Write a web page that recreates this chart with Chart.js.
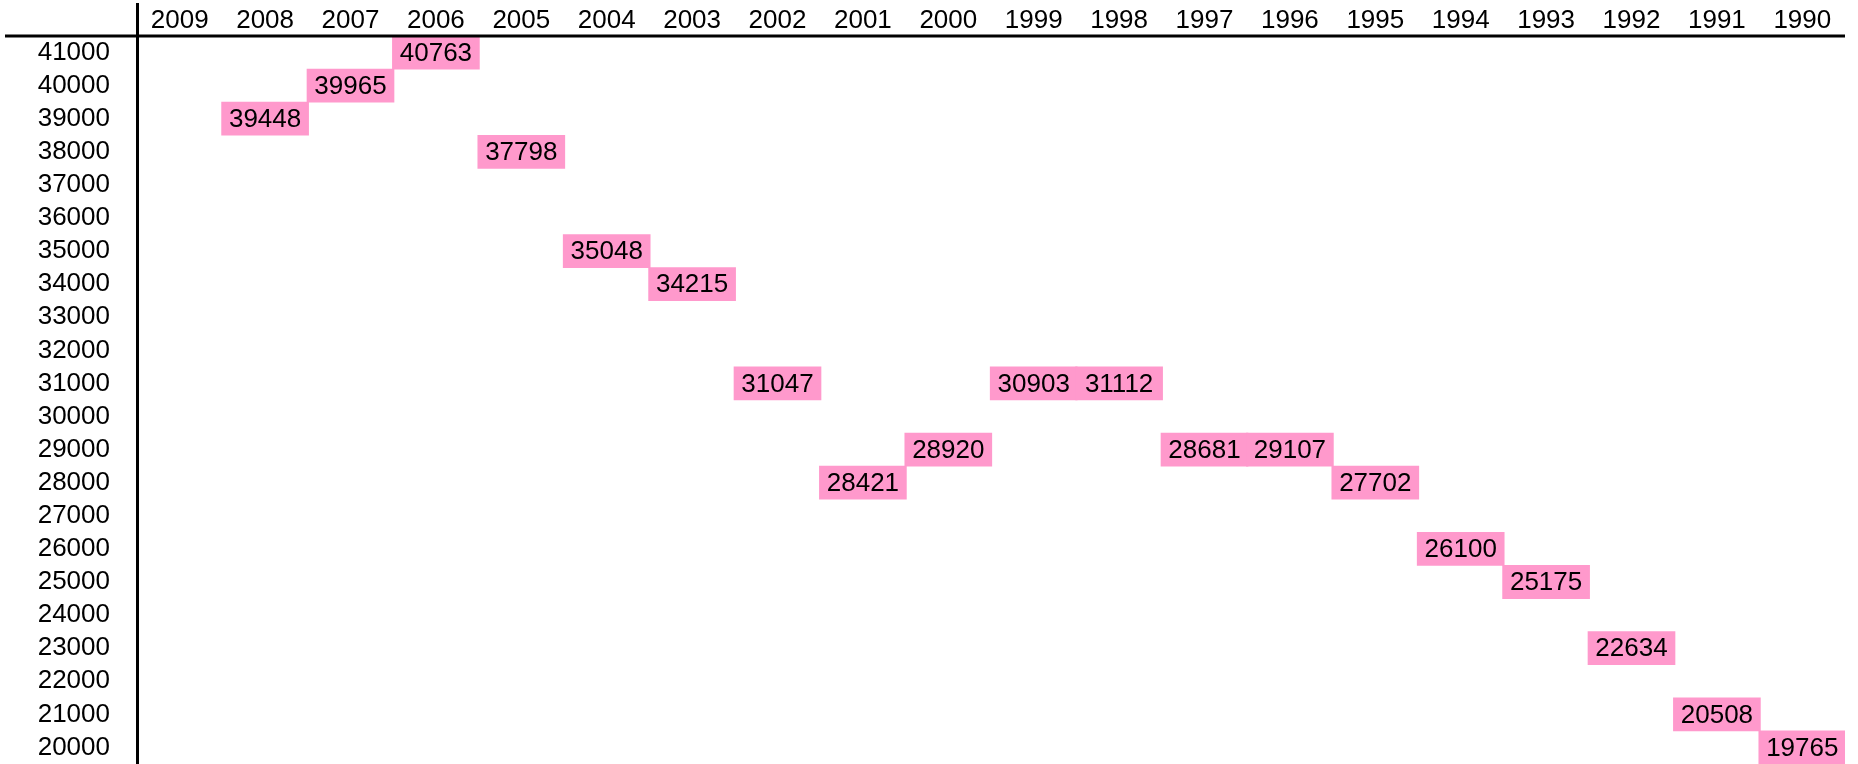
<!DOCTYPE html>
<html>
<head>
<meta charset="utf-8">
<script src="https://cdn.jsdelivr.net/npm/chart.js@4"></script>
<style>
  html, body { margin: 0; padding: 0; background: #fff; }
  #wrap { width: 1858px; height: 764px; }
</style>
</head>
<body>
<div id="wrap"><canvas id="chart"></canvas></div>
<script>
// years across the top, newest first
const years = ['2009', '2008', '2007', '2006', '2005', '2004', '2003', '2002', '2001', '2000',
               '1999', '1998', '1997', '1996', '1995', '1994', '1993', '1992', '1991', '1990'];
const values = [null, 39448, 39965, 40763, 37798, 35048, 34215, 31047, 28421, 28920,
                30903, 31112, 28681, 29107, 27702, 26100, 25175, 22634, 20508, 19765];
const yTicks = [41000, 40000, 39000, 38000, 37000, 36000, 35000, 34000, 33000, 32000, 31000,
                30000, 29000, 28000, 27000, 26000, 25000, 24000, 23000, 22000, 21000, 20000];

const FONT = { family: '"Liberation Sans", Arial, sans-serif', size: 26 };

// each value sits in the row of its nearest thousand
const cells = values.map(v => {
  if (v == null) return null;
  const row = Math.round(v / 1000) * 1000;
  return [row - 500, row + 500];
});

const tableLines = {
  id: 'tableLines',
  afterDraw(chart) {
    const { ctx, chartArea } = chart;
    ctx.save();
    ctx.strokeStyle = '#000';
    ctx.lineWidth = 3;
    ctx.beginPath();
    ctx.moveTo(5, chartArea.top);
    ctx.lineTo(chartArea.right, chartArea.top);
    ctx.stroke();
    ctx.beginPath();
    ctx.moveTo(chartArea.left + 0.5, 3);
    ctx.lineTo(chartArea.left + 0.5, chart.height);
    ctx.stroke();
    ctx.restore();
  }
};

const cellText = {
  id: 'cellText',
  afterDatasetsDraw(chart) {
    const { ctx } = chart;
    const meta = chart.getDatasetMeta(0);
    ctx.save();
    ctx.font = FONT.size + 'px ' + FONT.family;
    ctx.fillStyle = '#000';
    ctx.textAlign = 'center';
    ctx.textBaseline = 'middle';
    meta.data.forEach((bar, i) => {
      if (values[i] == null) return;
      ctx.fillText(String(values[i]), bar.x, (bar.y + bar.base) / 2 + 1);
    });
    ctx.restore();
  }
};

new Chart(document.getElementById('chart'), {
  type: 'bar',
  data: {
    labels: years,
    datasets: [{
      data: cells,
      backgroundColor: '#ff99cc',
      borderWidth: 0,
      barThickness: 87,
      grouped: false
    }]
  },
  options: {
    responsive: true,
    maintainAspectRatio: false,
    animation: false,
    layout: { padding: { left: 0, right: 13, top: 0, bottom: 0 } },
    plugins: { legend: { display: false }, tooltip: { enabled: false } },
    scales: {
      x: {
        position: 'top',
        grid: { display: false, drawTicks: false, tickLength: 0 },
        border: { display: false },
        ticks: { color: '#000', font: FONT, padding: 0, maxRotation: 0, autoSkip: false },
        afterFit(scale) {
          scale.height = 36;
          scale.paddingLeft = 0;
          scale.paddingRight = 0;
        }
      },
      y: {
        min: 19500,
        max: 41500,
        grid: { display: false, drawTicks: false, tickLength: 0 },
        border: { display: false },
        ticks: { color: '#000', font: FONT, padding: 27, callback: v => String(v) },
        afterBuildTicks(scale) { scale.ticks = yTicks.map(v => ({ value: v })); },
        afterFit(scale) {
          scale.width = 137;
          scale.paddingTop = 0;
          scale.paddingBottom = 0;
        }
      }
    }
  },
  plugins: [tableLines, cellText]
});
</script>
</body>
</html>
